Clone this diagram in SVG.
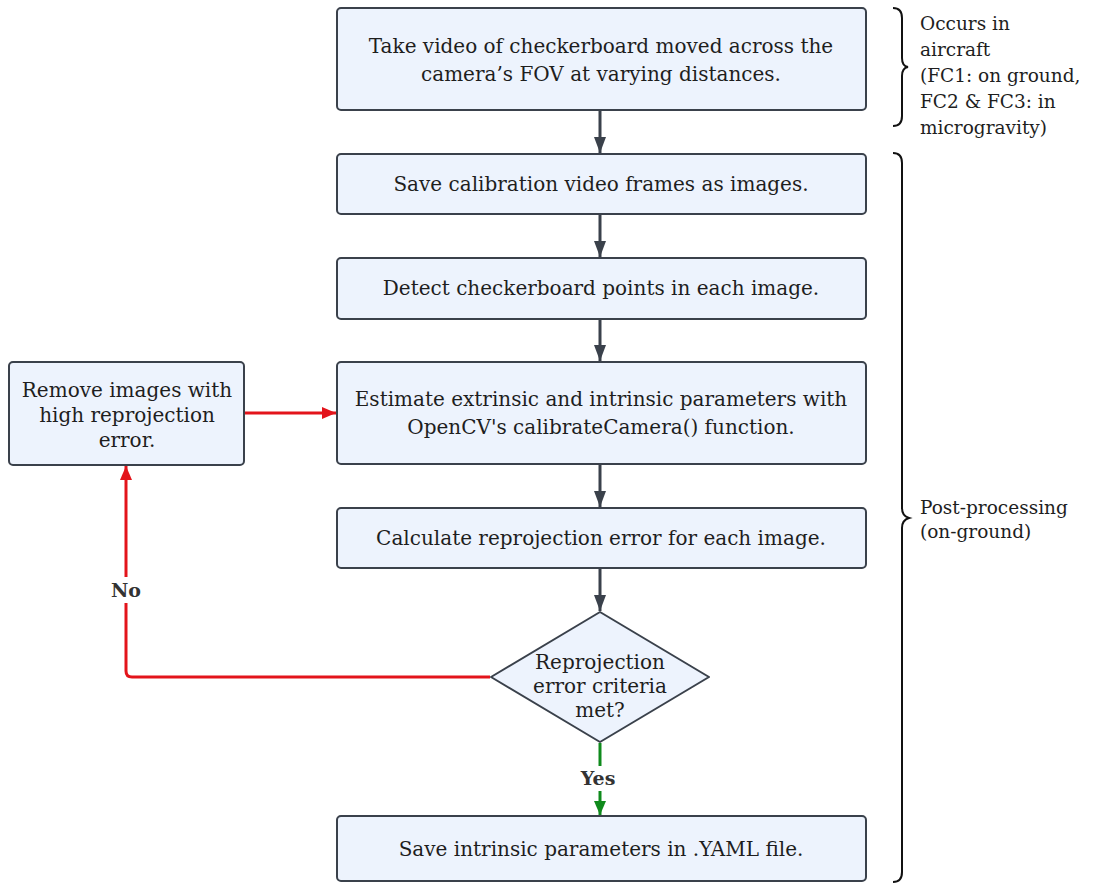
<svg xmlns="http://www.w3.org/2000/svg" width="1094" height="883" viewBox="0 0 1094 883">
  <defs>
    <style>
      .box { fill: #edf3fd; stroke: #3a414b; stroke-width: 2; }
      .t { font-family: "DejaVu Serif", "Liberation Serif", serif; font-size: 20px; fill: #1e1e1e; text-anchor: middle; }
      .side { font-family: "DejaVu Serif", "Liberation Serif", serif; font-size: 18.5px; fill: #1e1e1e; }
      .lbl { font-family: "DejaVu Serif", "Liberation Serif", serif; font-size: 19px; font-weight: bold; fill: #333; text-anchor: middle; }
      .flow { fill: none; stroke: #3a414b; stroke-width: 3; }
      .no { fill: none; stroke: #e3141b; stroke-width: 3; }
      .yes { fill: none; stroke: #0f8a1c; stroke-width: 3; }
      .brace { fill: none; stroke: #111; stroke-width: 2; }
    </style>
    <marker id="ahRed" markerWidth="14" markerHeight="12" refX="14" refY="6" orient="auto" markerUnits="userSpaceOnUse" viewBox="0 0 14 12">
      <path d="M0,0 L14,6 L0,12 Z" fill="#e3141b"/>
    </marker>
    <marker id="ahGreen" markerWidth="14" markerHeight="12" refX="14" refY="6" orient="auto" markerUnits="userSpaceOnUse" viewBox="0 0 14 12">
      <path d="M0,0 L14,6 L0,12 Z" fill="#0f8a1c"/>
    </marker>
    <marker id="ahDark" markerWidth="16" markerHeight="12" refX="16" refY="6" orient="auto" markerUnits="userSpaceOnUse" viewBox="0 0 16 12">
      <path d="M0,0 L16,6 L0,12 Z" fill="#3a414b"/>
    </marker>
  </defs>
  <rect width="1094" height="883" fill="#ffffff"/>

  <g id="connectors">
    <path class="flow" d="M600,111 V153" marker-end="url(#ahDark)"/>
    <path class="flow" d="M600,215 V257" marker-end="url(#ahDark)"/>
    <path class="flow" d="M600,320 V361" marker-end="url(#ahDark)"/>
    <path class="flow" d="M600,465 V507" marker-end="url(#ahDark)"/>
    <path class="flow" d="M600,569 V611" marker-end="url(#ahDark)"/>
    <path class="no" d="M245,413 H336" marker-end="url(#ahRed)"/>
    <path class="no" d="M490,677 H132 Q126,677 126,671 V603"/>
    <path class="no" d="M126,577 V466" marker-end="url(#ahRed)"/>
    <path class="yes" d="M600,743 V766"/>
    <path class="yes" d="M600,791 V815" marker-end="url(#ahGreen)"/>
    <text class="lbl" x="126" y="597">No</text>
    <text class="lbl" x="598" y="785">Yes</text>
  </g>

  <g id="n-video">
    <rect class="box" x="337" y="8" width="529" height="102" rx="4"/>
    <text class="t" x="601" y="53">Take video of checkerboard moved across the</text>
    <text class="t" x="601" y="81">camera’s FOV at varying distances.</text>
  </g>
  <g id="n-save-frames">
    <rect class="box" x="337" y="154" width="529" height="60" rx="4"/>
    <text class="t" x="601" y="191">Save calibration video frames as images.</text>
  </g>
  <g id="n-detect">
    <rect class="box" x="337" y="258" width="529" height="61" rx="4"/>
    <text class="t" x="601" y="295">Detect checkerboard points in each image.</text>
  </g>
  <g id="n-estimate">
    <rect class="box" x="337" y="362" width="529" height="102" rx="4"/>
    <text class="t" x="601" y="406">Estimate extrinsic and intrinsic parameters with</text>
    <text class="t" x="601" y="434">OpenCV's calibrateCamera() function.</text>
  </g>
  <g id="n-reproj">
    <rect class="box" x="337" y="508" width="529" height="60" rx="4"/>
    <text class="t" x="601" y="545">Calculate reprojection error for each image.</text>
  </g>
  <g id="n-decision">
    <path class="box" d="M600,612 L709,677 L600,742 L491,677 Z" stroke-linejoin="round"/>
    <text class="t" x="600" y="669">Reprojection</text>
    <text class="t" x="600" y="693">error criteria</text>
    <text class="t" x="600" y="717">met?</text>
  </g>
  <g id="n-save-yaml">
    <rect class="box" x="337" y="816" width="529" height="65" rx="4"/>
    <text class="t" x="601" y="856">Save intrinsic parameters in .YAML file.</text>
  </g>
  <g id="n-remove">
    <rect class="box" x="9" y="362" width="235" height="103" rx="4"/>
    <text class="t" x="127" y="397">Remove images with</text>
    <text class="t" x="127" y="422">high reprojection</text>
    <text class="t" x="127" y="447">error.</text>
  </g>

  <g id="annotations">
    <path class="brace" d="M893,8 Q902,8 902,18 V58 Q902,66 908,67 Q902,68 902,76 V116 Q902,126 893,126"/>
    <text class="side" x="920" y="30">Occurs in</text>
    <text class="side" x="920" y="56">aircraft</text>
    <text class="side" x="920" y="82">(FC1: on ground,</text>
    <text class="side" x="920" y="108">FC2 &amp; FC3: in</text>
    <text class="side" x="920" y="134">microgravity)</text>
    <path class="brace" d="M893,153 Q902,153 902,163 V508 Q902,516 909,518 Q902,520 902,528 V872 Q902,882 893,882"/>
    <text class="side" x="920" y="514">Post-processing</text>
    <text class="side" x="920" y="538">(on-ground)</text>
  </g>
</svg>
